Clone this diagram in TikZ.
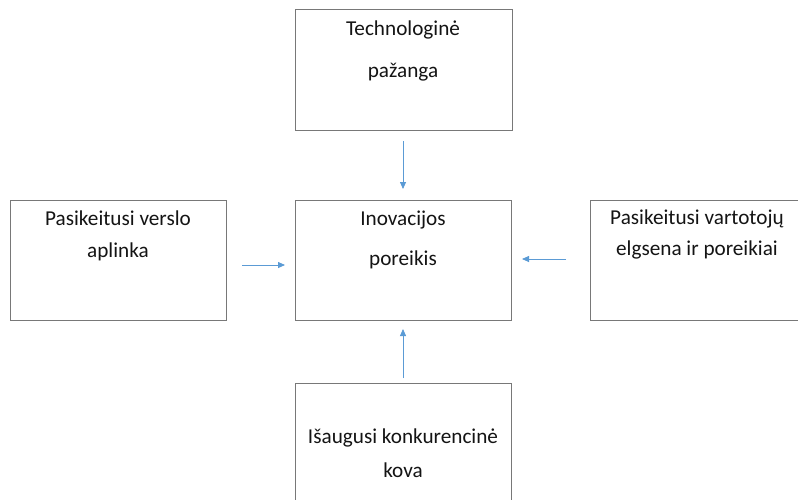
\documentclass[tikz,border=0pt]{standalone}
\usepackage{fontspec}
\setmainfont{Carlito}
\usetikzlibrary{arrows.meta}
\definecolor{boxline}{RGB}{120,120,120}
\definecolor{arrowblue}{RGB}{91,155,213}
\begin{document}
\begin{tikzpicture}[x=1pt,y=-1pt,
  box/.style={draw=boxline,line width=0.9pt,rectangle,inner sep=0pt,anchor=north west},
  txt/.style={font=\fontsize{21.2}{25}\selectfont,text=black!92,inner sep=0pt,anchor=center},
  link/.style={draw=arrowblue,line width=0.8pt,-{Triangle[length=7pt,width=6pt]}}]
\useasboundingbox[fill=white] (0,0) rectangle (798,499);

% boxes
\node[box,minimum width=217pt,minimum height=121pt] (tech) at (294.5,8.5) {};
\node[box,minimum width=216pt,minimum height=120pt] (verslo) at (9.5,199.5) {};
\node[box,minimum width=216pt,minimum height=120pt] (inov) at (294.5,199.5) {};
\node[box,minimum width=212pt,minimum height=120pt] (vart) at (589.5,199.5) {};
\node[box,minimum width=216pt,minimum height=150pt] (konk) at (294.5,382.5) {};

% labels
\node[txt] (t1) at (403,30) {Technologinė};
\node[txt] (t2) at (403,72) {pažanga};
\node[txt] (v1) at (118,218) {Pasikeitusi verslo};
\node[txt] (v2) at (118,252) {aplinka};
\node[txt] (i1) at (403,220) {Inovacijos};
\node[txt] (i2) at (403,260) {poreikis};
\node[txt] (p1) at (697,219) {Pasikeitusi vartotojų};
\node[txt] (p2) at (697,250) {elgsena ir poreikiai};
\node[txt] (k1) at (403,438) {Išaugusi konkurencinė};
\node[txt] (k2) at (403,470) {kova};

% connector ends
\coordinate (topA) at (403,141);
\coordinate (topB) at (403,189);
\coordinate (leftA) at (242,265);
\coordinate (leftB) at (285,265);
\coordinate (rightA) at (566,259);
\coordinate (rightB) at (522,259);
\coordinate (botA) at (403,378);
\coordinate (botB) at (403,329);

\draw[link] (topA) -- (topB);
\draw[link] (leftA) -- (leftB);
\draw[link] (rightA) -- (rightB);
\draw[link] (botA) -- (botB);
\end{tikzpicture}
\end{document}
